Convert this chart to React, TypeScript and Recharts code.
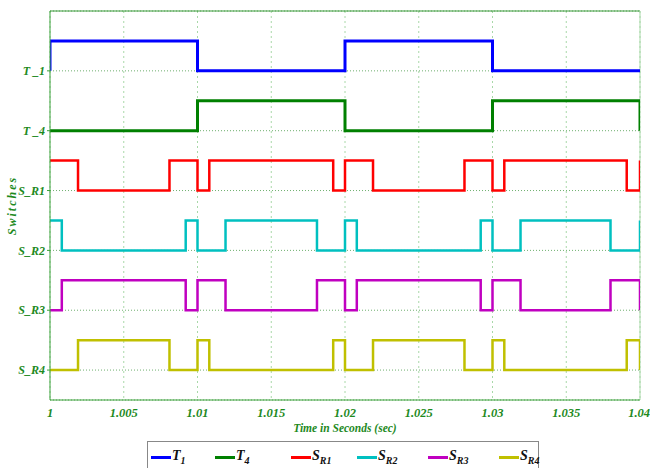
import { LineChart, Line, XAxis, YAxis, CartesianGrid, ReferenceLine } from 'recharts';

// x axis ticks (seconds)
const xTicks = [1, 1.005, 1.01, 1.015, 1.02, 1.025, 1.03, 1.035, 1.04];

// signal rows: baseline of each trace on the y axis, and its tick label
const rowBase = [11, 9, 7, 5, 3, 1];
const rowLabels = ['T _1', 'T _4', 'S_R1', 'S_R2', 'S_R3', 'S_R4'];

// switching instants and logic level after each instant
const t1Times = [1, 1, 1.01, 1.02, 1.03, 1.04];
const t1Levels = [0, 1, 0, 1, 0, 0];
const t4Times = [1, 1.01, 1.02, 1.03, 1.04];
const t4Levels = [0, 1, 0, 1, 0];
const sr1Times = [1, 1.0019, 1.0081, 1.01, 1.0108, 1.0192, 1.02, 1.0219, 1.0281, 1.03, 1.0308, 1.0391, 1.04];
const sr1Levels = [1, 0, 1, 0, 1, 0, 1, 0, 1, 0, 1, 0, 1];
const sr2Times = [1, 1.0008, 1.0092, 1.01, 1.0119, 1.0181, 1.02, 1.0208, 1.0292, 1.03, 1.0319, 1.038, 1.04];
const sr2Levels = [1, 0, 1, 0, 1, 0, 1, 0, 1, 0, 1, 0, 1];
const sr3Times = [1, 1.0008, 1.0092, 1.01, 1.0119, 1.0181, 1.02, 1.0208, 1.0292, 1.03, 1.0319, 1.038, 1.04];
const sr3Levels = [0, 1, 0, 1, 0, 1, 0, 1, 0, 1, 0, 1, 0];
const sr4Times = [1, 1.0019, 1.0081, 1.01, 1.0108, 1.0192, 1.02, 1.0219, 1.0281, 1.03, 1.0308, 1.0391, 1.04];
const sr4Levels = [0, 1, 0, 1, 0, 1, 0, 1, 0, 1, 0, 1, 0];

const toSeries = (times: number[], levels: number[], base: number) =>
  times.map((t, i) => ({ t, v: base + levels[i] }));

const series = [
  { key: 'T1', color: '#0000ff', width: 3, data: toSeries(t1Times, t1Levels, rowBase[0]), main: 'T', sub: '1' },
  { key: 'T4', color: '#008000', width: 3, data: toSeries(t4Times, t4Levels, rowBase[1]), main: 'T', sub: '4' },
  { key: 'SR1', color: '#ff0000', width: 2.5, data: toSeries(sr1Times, sr1Levels, rowBase[2]), main: 'S', sub: 'R1' },
  { key: 'SR2', color: '#00c0c0', width: 2.5, data: toSeries(sr2Times, sr2Levels, rowBase[3]), main: 'S', sub: 'R2' },
  { key: 'SR3', color: '#c000c0', width: 2.5, data: toSeries(sr3Times, sr3Levels, rowBase[4]), main: 'S', sub: 'R3' },
  { key: 'SR4', color: '#c0c000', width: 2.5, data: toSeries(sr4Times, sr4Levels, rowBase[5]), main: 'S', sub: 'R4' },
];

const axisGreen = '#1e8a1e';
const fontFam = '"Liberation Serif", "DejaVu Serif", serif';

export default function App() {
  return (
    <div style={{ position: 'fixed', left: 0, top: 0, width: 650, height: 468, background: '#fff', overflow: 'hidden' }}>
      <LineChart width={650} height={468} margin={{ top: 11, right: 10, bottom: 38, left: 0 }}>
        <CartesianGrid horizontal={false} stroke="#a8d8a8" strokeDasharray="2 3" />
        <CartesianGrid vertical={false} stroke="#4a9a4a" strokeDasharray="1 2" strokeWidth={0.8} />
        <XAxis
          dataKey="t"
          type="number"
          domain={[1, 1.04]}
          ticks={xTicks}
          allowDataOverflow
          tickFormatter={(v: number) => String(v)}
          stroke="#3aa03a"
          tickLine={false}
          height={30}
          tick={{ fill: axisGreen, fontSize: 12.5, fontStyle: 'italic', fontWeight: 'bold', fontFamily: fontFam }}
          label={{
            value: 'Time in Seconds (sec)',
            position: 'insideBottom',
            offset: -2,
            fill: axisGreen,
            fontSize: 11.5,
            fontStyle: 'italic',
            fontWeight: 'bold',
            fontFamily: fontFam,
          }}
        />
        <YAxis
          type="number"
          domain={[0, 13]}
          ticks={rowBase}
          width={50}
          stroke="#3aa03a"
          tickSize={3}
          tickFormatter={(v: number) => rowLabels[rowBase.indexOf(v)]}
          tick={{ fill: axisGreen, fontSize: 12, fontStyle: 'italic', fontWeight: 'bold', fontFamily: fontFam }}
          label={{
            value: 'Switches',
            angle: -90,
            position: 'insideLeft',
            offset: 12,
            textAnchor: 'middle',
            fill: axisGreen,
            fontSize: 12,
            letterSpacing: 2,
            fontStyle: 'italic',
            fontWeight: 'bold',
            fontFamily: fontFam,
          }}
        />
        <ReferenceLine y={13} stroke="#3a9a3a" />
        <ReferenceLine x={1.04} stroke="#a8d8a8" />
        {series.map((s) => (
          <Line
            key={s.key}
            data={s.data}
            dataKey="v"
            type="stepAfter"
            stroke={s.color}
            strokeWidth={s.width}
            dot={false}
            isAnimationActive={false}
          />
        ))}
      </LineChart>

      {/* Legend box */}
      <div
        style={{
          position: 'absolute',
          left: 147,
          top: 441,
          width: 392,
          height: 40,
          border: '1px solid #888',
          boxSizing: 'border-box',
          fontFamily: fontFam,
        }}
      >
        {series.map((s, i) => {
          const lefts = [3, 67, 143, 209, 280, 351];
          return (
            <div key={s.key} style={{ position: 'absolute', left: lefts[i], top: 6, display: 'flex', alignItems: 'flex-start' }}>
              <div style={{ width: 20, height: 3, background: s.color, marginTop: 8 }} />
              <span style={{ fontSize: 14, fontStyle: 'italic', fontWeight: 'bold', color: '#111', marginLeft: 1 }}>
                {s.main}
                <sub style={{ fontSize: 10 }}>{s.sub}</sub>
              </span>
            </div>
          );
        })}
      </div>
    </div>
  );
}
